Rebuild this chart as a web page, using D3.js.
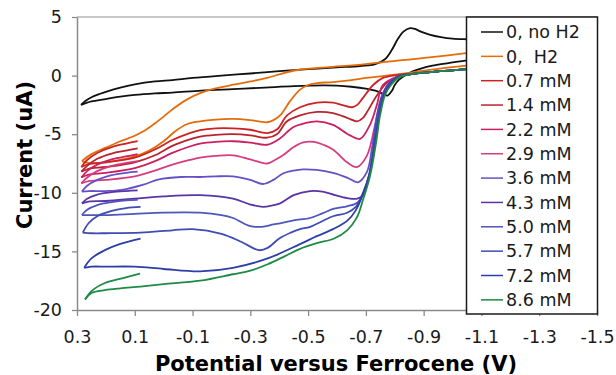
<!DOCTYPE html>
<html>
<head>
<meta charset="utf-8">
<script src="https://cdn.jsdelivr.net/npm/d3@7"></script>
<style>
  body { margin: 0; background: #fff; }
  svg { display: block; }
  text { font-family: "DejaVu Sans", Verdana, sans-serif; }
</style>
</head>
<body>
<div id="chart"></div>
<script>
// legend labels and tick values
const labels = ['0, no H2', '0,  H2', '0.7 mM', '1.4 mM', '2.2 mM', '2.9 mM',
  '3.6 mM', '4.3 mM', '5.0 mM', '5.7 mM', '7.2 mM', '8.6 mM'];
const xTicks = [0.3, 0.1, -0.1, -0.3, -0.5, -0.7, -0.9, -1.1, -1.3, -1.5];
const yTicks = [-20, -15, -10, -5, 0, 5];

// each branch: [potential V, current uA]
const noH2Fwd = [[0.286,-2.5],[0.27,-2.15],[0.25,-1.85],[0.22,-1.55],[0.2,-1.38],[0.15,-1.02],[0.1,-0.75],[0.03,-0.5],[-0.03,-0.38],[-0.1,-0.2],[-0.2,0.0],[-0.3,0.18],[-0.4,0.38],[-0.5,0.55],[-0.6,0.7],[-0.68,0.82],[-0.73,0.95],[-0.766,1.4],[-0.79,2.2],[-0.81,3.1],[-0.83,3.75],[-0.853,4.05],[-0.87,3.98],[-0.89,3.75],[-0.92,3.5],[-0.96,3.28],[-1.0,3.15],[-1.05,3.1],[-1.15,3.05]];
const noH2Rev = [[0.286,-2.5],[0.27,-2.35],[0.25,-2.2],[0.2,-2.0],[0.15,-1.8],[0.1,-1.65],[0.03,-1.52],[-0.03,-1.45],[-0.13,-1.28],[-0.24,-1.15],[-0.35,-1.02],[-0.45,-0.9],[-0.55,-0.83],[-0.6,-0.85],[-0.65,-0.95],[-0.7,-1.12],[-0.74,-1.35],[-0.762,-1.6],[-0.775,-1.7],[-0.79,-1.3],[-0.80,-0.8],[-0.815,-0.35],[-0.835,0.0],[-0.86,0.35],[-0.89,0.6],[-0.93,0.85],[-0.98,1.05],[-1.05,1.3],[-1.15,1.5]];

const h2Fwd = [[0.283,-7.3],[0.25,-6.7],[0.2,-6.15],[0.15,-5.6],[0.106,-5.2],[0.07,-4.75],[0.037,-4.2],[0.0,-3.5],[-0.032,-2.85],[-0.08,-2.05],[-0.126,-1.5],[-0.18,-1.1],[-0.24,-0.78],[-0.3,-0.5],[-0.358,-0.2],[-0.4,0.1],[-0.437,0.35],[-0.47,0.5],[-0.507,0.6],[-0.586,0.75],[-0.7,0.98],[-0.818,1.3],[-0.92,1.55],[-1.047,1.92],[-1.15,2.2]];
const h2Rev = [[0.283,-7.3],[0.26,-7.45],[0.2,-7.4],[0.15,-7.2],[0.1,-6.9],[0.05,-6.4],[0.0,-5.6],[-0.04,-4.75],[-0.08,-4.15],[-0.126,-3.9],[-0.18,-3.75],[-0.24,-3.7],[-0.3,-3.8],[-0.358,-3.98],[-0.38,-3.8],[-0.403,-3.4],[-0.437,-2.2],[-0.472,-1.2],[-0.5,-0.8],[-0.531,-0.65],[-0.586,-0.55],[-0.65,-0.38],[-0.7,-0.2],[-0.81,0.1],[-0.9,0.42],[-1.047,0.85],[-1.15,1.05]];

const c07Long = [[0.285,-7.8],[0.26,-7.55],[0.2,-7.4],[0.1,-7.0],[0.03,-6.3],[-0.03,-5.5],[-0.09,-4.9],[-0.126,-4.65],[-0.18,-4.5],[-0.24,-4.5],[-0.3,-4.62],[-0.358,-4.9],[-0.392,-4.6],[-0.427,-3.4],[-0.472,-2.7],[-0.531,-2.3],[-0.586,-2.3],[-0.61,-2.45],[-0.652,-2.7],[-0.67,-2.5],[-0.69,-1.9],[-0.725,-0.8],[-0.759,-0.2],[-0.808,0.05],[-0.863,0.15],[-0.922,0.3],[-1.0,0.45],[-1.05,0.55],[-1.15,0.65]];
const c07Tail = [[0.285,-7.8],[0.265,-7.2],[0.23,-6.6],[0.18,-6.1],[0.13,-5.8],[0.09,-5.6]];

const c14Long = [[0.285,-8.2],[0.26,-7.95],[0.2,-7.8],[0.1,-7.4],[0.03,-6.8],[-0.03,-6.0],[-0.09,-5.45],[-0.126,-5.2],[-0.18,-5.05],[-0.24,-5.0],[-0.3,-5.1],[-0.358,-5.3],[-0.392,-5.0],[-0.427,-3.9],[-0.472,-3.4],[-0.531,-3.1],[-0.586,-3.2],[-0.635,-3.6],[-0.669,-3.9],[-0.69,-3.6],[-0.704,-3.1],[-0.738,-1.7],[-0.773,-0.6],[-0.818,0.0],[-0.863,0.15],[-0.922,0.3],[-1.0,0.45],[-1.05,0.55],[-1.15,0.65]];
const c14Tail = [[0.285,-8.2],[0.265,-7.7],[0.23,-7.1],[0.18,-6.65],[0.13,-6.4],[0.09,-6.2]];

const c22Long = [[0.285,-8.7],[0.26,-8.45],[0.2,-8.3],[0.1,-7.9],[0.03,-7.3],[-0.03,-6.6],[-0.09,-6.05],[-0.126,-5.8],[-0.18,-5.65],[-0.24,-5.6],[-0.3,-5.72],[-0.358,-5.9],[-0.4,-5.4],[-0.448,-4.4],[-0.49,-4.05],[-0.531,-3.9],[-0.586,-4.2],[-0.645,-5.1],[-0.68,-5.4],[-0.714,-4.2],[-0.738,-2.5],[-0.759,-0.8],[-0.808,-0.1],[-0.863,0.15],[-0.922,0.3],[-1.0,0.45],[-1.05,0.55],[-1.15,0.65]];
const c22Tail = [[0.285,-8.7],[0.265,-8.15],[0.23,-7.6],[0.18,-7.15],[0.13,-6.9],[0.09,-6.7]];

const c29Long = [[0.285,-9.2],[0.26,-9.0],[0.2,-8.9],[0.1,-8.6],[0.03,-8.1],[-0.03,-7.6],[-0.09,-7.2],[-0.126,-7.0],[-0.18,-6.85],[-0.24,-6.8],[-0.3,-7.15],[-0.358,-7.5],[-0.385,-7.2],[-0.413,-6.8],[-0.45,-6.1],[-0.483,-5.7],[-0.52,-5.65],[-0.552,-5.9],[-0.586,-6.3],[-0.635,-7.4],[-0.669,-7.8],[-0.704,-6.8],[-0.732,-4.2],[-0.756,-1.7],[-0.783,-0.55],[-0.815,-0.05],[-0.863,0.15],[-0.922,0.3],[-1.0,0.45],[-1.05,0.55],[-1.15,0.65]];
const c29Tail = [[0.285,-9.2],[0.265,-8.7],[0.23,-8.15],[0.18,-7.7],[0.13,-7.45],[0.09,-7.3]];

const c36Long = [[0.283,-9.9],[0.26,-9.85],[0.2,-9.85],[0.144,-9.75],[0.07,-9.3],[0.016,-8.85],[-0.06,-8.65],[-0.126,-8.65],[-0.18,-8.6],[-0.24,-8.6],[-0.3,-8.9],[-0.344,-9.25],[-0.38,-8.9],[-0.413,-8.35],[-0.45,-8.1],[-0.483,-8.0],[-0.53,-8.05],[-0.586,-8.3],[-0.635,-8.7],[-0.673,-9.1],[-0.704,-8.2],[-0.721,-6.2],[-0.738,-3.4],[-0.756,-1.7],[-0.783,-0.55],[-0.815,-0.05],[-0.863,0.15],[-0.922,0.3],[-1.0,0.45],[-1.05,0.55],[-1.15,0.65]];
const c36Tail = [[0.283,-9.9],[0.265,-9.4],[0.23,-8.9],[0.18,-8.5],[0.13,-8.3],[0.09,-8.2]];

const c43Long = [[0.283,-10.9],[0.26,-10.75],[0.2,-10.7],[0.1,-10.5],[0.0,-10.3],[-0.126,-10.2],[-0.24,-10.5],[-0.3,-11.0],[-0.344,-11.2],[-0.38,-11.05],[-0.403,-10.9],[-0.45,-10.2],[-0.507,-9.85],[-0.55,-9.9],[-0.593,-10.2],[-0.635,-10.45],[-0.67,-10.5],[-0.69,-10.2],[-0.708,-9.0],[-0.725,-6.5],[-0.74,-3.5],[-0.757,-1.8],[-0.783,-0.6],[-0.812,-0.1],[-0.863,0.15],[-0.922,0.3],[-1.0,0.45],[-1.05,0.55],[-1.15,0.65]];
const c43Tail = [[0.283,-10.9],[0.265,-10.5],[0.23,-10.15],[0.18,-9.95],[0.13,-9.85],[0.09,-9.8]];

const c50Long = [[0.283,-11.9],[0.26,-11.9],[0.2,-11.9],[0.1,-11.8],[0.0,-11.7],[-0.126,-11.7],[-0.2,-11.9],[-0.24,-12.15],[-0.3,-12.85],[-0.34,-12.9],[-0.38,-12.7],[-0.403,-12.6],[-0.45,-12.35],[-0.507,-12.15],[-0.55,-11.75],[-0.59,-11.35],[-0.635,-11.15],[-0.67,-10.85],[-0.69,-10.1],[-0.71,-8.6],[-0.728,-6.0],[-0.742,-3.4],[-0.76,-1.7],[-0.783,-0.7],[-0.812,-0.1],[-0.863,0.15],[-0.922,0.3],[-1.0,0.45],[-1.05,0.55],[-1.15,0.65]];
const c50Tail = [[0.283,-11.9],[0.265,-11.45],[0.23,-11.05],[0.18,-10.8],[0.13,-10.65],[0.09,-10.6]];

const c57Long = [[0.28,-13.4],[0.25,-13.45],[0.2,-13.45],[0.08,-13.4],[-0.03,-13.2],[-0.1,-13.1],[-0.2,-13.5],[-0.27,-14.2],[-0.33,-14.9],[-0.36,-14.7],[-0.4,-13.9],[-0.44,-13.4],[-0.472,-13.1],[-0.507,-12.9],[-0.586,-12.0],[-0.635,-11.7],[-0.665,-11.2],[-0.69,-10.0],[-0.712,-8.4],[-0.73,-5.8],[-0.745,-3.3],[-0.762,-1.6],[-0.785,-0.7],[-0.812,-0.1],[-0.863,0.15],[-0.922,0.3],[-1.0,0.45],[-1.05,0.55],[-1.15,0.65]];
const c57Tail = [[0.28,-13.4],[0.26,-12.6],[0.23,-12.0],[0.18,-11.55],[0.13,-11.3],[0.08,-11.2]];

const c72Long = [[0.275,-16.4],[0.25,-16.3],[0.2,-16.3],[0.1,-16.3],[0.0,-16.5],[-0.126,-16.7],[-0.24,-16.4],[-0.36,-15.6],[-0.47,-14.4],[-0.53,-13.7],[-0.586,-13.1],[-0.635,-12.4],[-0.665,-11.5],[-0.69,-10.1],[-0.714,-8.3],[-0.733,-5.6],[-0.747,-3.3],[-0.765,-1.5],[-0.787,-0.7],[-0.813,-0.1],[-0.863,0.15],[-0.922,0.3],[-1.0,0.45],[-1.05,0.55],[-1.15,0.65]];
const c72Tail = [[0.275,-16.4],[0.25,-15.6],[0.2,-14.85],[0.15,-14.35],[0.08,-13.9]];

const c86Long = [[0.272,-19.1],[0.25,-18.55],[0.203,-18.3],[0.15,-18.15],[0.08,-18.0],[0.0,-17.8],[-0.126,-17.5],[-0.24,-16.95],[-0.3,-16.65],[-0.36,-16.1],[-0.42,-15.4],[-0.47,-14.8],[-0.53,-14.3],[-0.59,-13.9],[-0.635,-13.2],[-0.669,-12.1],[-0.69,-10.6],[-0.714,-8.6],[-0.736,-5.6],[-0.749,-3.4],[-0.767,-1.6],[-0.787,-0.8],[-0.815,-0.15],[-0.863,0.15],[-0.922,0.3],[-1.0,0.45],[-1.05,0.55],[-1.15,0.65]];
const c86Tail = [[0.272,-19.1],[0.248,-18.35],[0.203,-17.7],[0.144,-17.3],[0.082,-16.9]];

const branches = [
  [noH2Fwd, noH2Rev], [h2Fwd, h2Rev],
  [c07Long, c07Tail], [c14Long, c14Tail], [c22Long, c22Tail], [c29Long, c29Tail],
  [c36Long, c36Tail], [c43Long, c43Tail], [c50Long, c50Tail], [c57Long, c57Tail],
  [c72Long, c72Tail], [c86Long, c86Tail]
];
const colors = ['#111111', '#e46c0a', '#cc2222', '#b8232e', '#cc1f62', '#d63c80',
  '#6650c4', '#5a34a6', '#4d56bc', '#3e4cb4', '#2e3ea8', '#1f8a45'];

const width = 616, height = 375;
const x = d3.scaleLinear().domain([0.3, -1.5]).range([77, 597]);
const y = d3.scaleLinear().domain([-20, 5]).range([310, 17]);

const svg = d3.select('#chart').append('svg')
  .attr('width', width)
  .attr('height', height);

// plot border top
svg.append('line')
  .attr('x1', x(0.3)).attr('x2', x(-1.5))
  .attr('y1', y(5)).attr('y2', y(5))
  .attr('stroke', '#b4b4b4').attr('stroke-width', 1.5);

const xAxis = svg.append('g')
  .attr('transform', `translate(0,${y(-20)})`)
  .call(d3.axisBottom(x).tickValues(xTicks).tickFormat(d => d.toFixed(1))
    .tickSize(6).tickSizeOuter(0).tickPadding(15));
const yAxis = svg.append('g')
  .attr('transform', `translate(${x(0.3)},0)`)
  .call(d3.axisLeft(y).tickValues(yTicks).tickFormat(d => String(d))
    .tickSize(5).tickSizeOuter(0).tickPadding(10));

[xAxis, yAxis].forEach(g => {
  g.select('.domain').attr('stroke', '#8a8a8a').attr('stroke-width', 1.5);
  g.selectAll('.tick line').attr('stroke', '#8a8a8a').attr('stroke-width', 1.3);
  g.selectAll('.tick text').attr('fill', '#1a1a1a').style('font-size', '17.5px')
    .style('font-family', '"DejaVu Sans", Verdana, sans-serif');
});

const line = d3.line()
  .x(d => x(d[0]))
  .y(d => y(d[1]))
  .curve(d3.curveCatmullRom.alpha(0.5));

const g = svg.append('g');
branches.forEach((set, i) => {
  set.forEach(b => {
    g.append('path')
      .datum(b)
      .attr('d', line)
      .attr('fill', 'none')
      .attr('stroke', colors[i])
      .attr('stroke-width', 1.8)
      .attr('stroke-linejoin', 'round');
  });
});

// axis titles
svg.append('text')
  .attr('x', 336).attr('y', 371)
  .attr('text-anchor', 'middle')
  .style('font-size', '21px').style('font-weight', 'bold')
  .text('Potential versus Ferrocene (V)');
svg.append('text')
  .attr('transform', 'translate(32,155) rotate(-90)')
  .attr('text-anchor', 'middle')
  .style('font-size', '21px').style('font-weight', 'bold')
  .text('Current (uA)');

// legend
const lg = svg.append('g');
lg.append('rect')
  .attr('x', 466.5).attr('y', 17).attr('width', 131).attr('height', 297)
  .attr('fill', '#fff').attr('stroke', '#1a1a1a').attr('stroke-width', 1.5);
labels.forEach((lab, i) => {
  const cy = 32 + i * 24.35;
  lg.append('line')
    .attr('x1', 481).attr('x2', 503).attr('y1', cy).attr('y2', cy)
    .attr('stroke', colors[i]).attr('stroke-width', 1.5);
  lg.append('text')
    .attr('x', 506).attr('y', cy)
    .attr('dy', '0.36em')
    .style('font-size', '17.5px')
    .style('white-space', 'pre')
    .attr('fill', '#1a1a1a')
    .text(lab);
});
</script>
</body>
</html>
